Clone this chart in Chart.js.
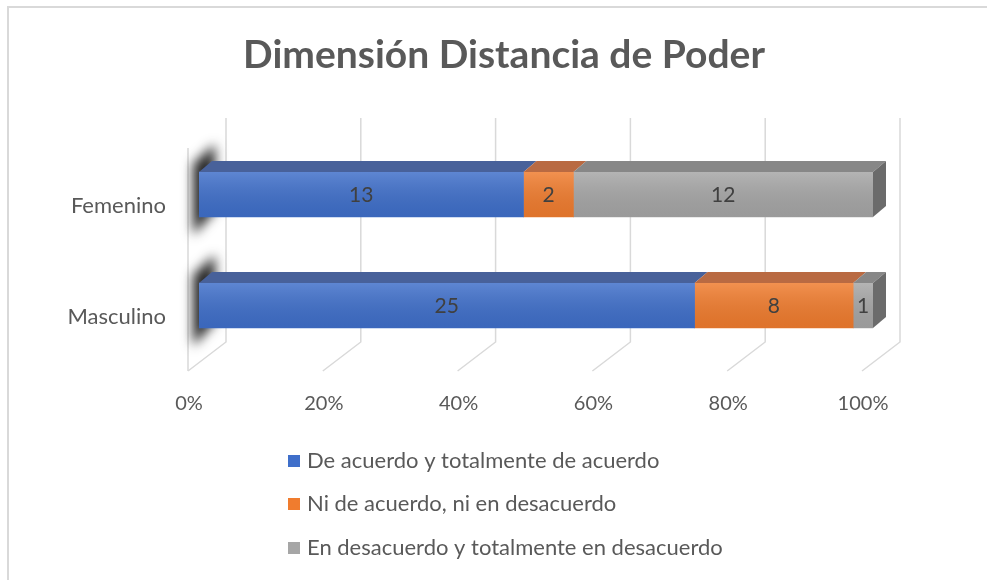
<!DOCTYPE html>
<html lang="es">
<head>
  <meta charset="UTF-8">
  <title>Dimensión Distancia de Poder</title>
  <script src="https://cdn.jsdelivr.net/npm/chart.js"></script>
  <style>
    html, body { margin: 0; padding: 0; background: #fff; }
    canvas { display: block; }
  </style>
</head>
<body>
  <canvas id="chart" width="987" height="580"></canvas>

  <script>
    // Datos
    const chartTitle = 'Dimensión Distancia de Poder';
    const categories = ['Femenino', 'Masculino'];
    const seriesNames = [
      'De acuerdo y totalmente de acuerdo',
      'Ni de acuerdo, ni en desacuerdo',
      'En desacuerdo y totalmente en desacuerdo'
    ];
    const deAcuerdo = [13, 25];
    const neutral = [2, 8];
    const enDesacuerdo = [12, 1];
    const xTicks = [0, 20, 40, 60, 80, 100];

    const frontColors = ['#3f6fca', '#f07c2e', '#a6a6a6'];
    const topColors = ['#48619a', '#b96a42', '#878787'];
    const sideColor = '#6b6b6b';

    const counts = [deAcuerdo, neutral, enDesacuerdo];
    const totals = categories.map((_, i) => counts.reduce((s, arr) => s + arr[i], 0));
    const pct = arr => arr.map((v, i) => v / totals[i] * 100);

    const FONT = 'Lato, "Open Sans", sans-serif';
    const DX = 13, DY = 11; // profundidad de las barras

    // paredes, rejilla y sombras (efecto 3D), etiquetas, titulo y leyenda
    const wallsPlugin = {
      id: 'walls',
      beforeDatasetsDraw(chart) {
        const { ctx, chartArea: a, scales: { x } } = chart;
        ctx.save();
        // marco
        ctx.strokeStyle = '#d9d9d9';
        ctx.lineWidth = 2;
        ctx.beginPath();
        ctx.moveTo(8, 580); ctx.lineTo(8, 7); ctx.lineTo(987, 7);
        ctx.stroke();

        ctx.lineWidth = 1.5;
        xTicks.forEach(t => {
          const px = x.getPixelForValue(t);
          ctx.beginPath();
          ctx.moveTo(px + 27, a.top - 21);
          ctx.lineTo(px + 27, a.bottom - 19);
          ctx.lineTo(px - 11, a.bottom + 10);
          ctx.stroke();
        });
        // borde frontal de la pared lateral
        const p0 = x.getPixelForValue(0);
        ctx.beginPath();
        ctx.moveTo(p0 - 11, a.top + 9);
        ctx.lineTo(p0 - 11, a.bottom + 10);
        ctx.stroke();

        // sombras sobre la pared lateral
        const meta = chart.getDatasetMeta(0);
        ctx.filter = 'blur(6px)';
        ctx.fillStyle = 'rgba(25,25,25,0.95)';
        meta.data.forEach(el => {
          const top = el.y - el.height / 2, bottom = el.y + el.height / 2;
          const x0 = el.base - 6, x1 = el.base + 16;
          ctx.beginPath();
          ctx.moveTo(x0, top - 8);
          ctx.lineTo(x1, top - 28);
          ctx.lineTo(x1, bottom - 6);
          ctx.lineTo(x0, bottom + 18);
          ctx.closePath();
          ctx.fill();
        });
        ctx.filter = 'none';
        ctx.restore();
      },
      afterDatasetsDraw(chart) {
        const { ctx } = chart;
        ctx.save();
        chart.data.datasets.forEach((ds, di) => {
          const meta = chart.getDatasetMeta(di);
          meta.data.forEach((el, i) => {
            const l = Math.min(el.base, el.x), r = Math.max(el.base, el.x);
            const top = el.y - el.height / 2, bottom = el.y + el.height / 2;
            // brillo del frente
            const g = ctx.createLinearGradient(0, top, 0, bottom);
            g.addColorStop(0, 'rgba(255,255,255,0.16)');
            g.addColorStop(1, 'rgba(0,0,0,0.07)');
            ctx.fillStyle = g;
            ctx.fillRect(l, top, r - l, bottom - top);
            // cara superior
            ctx.fillStyle = topColors[di];
            ctx.beginPath();
            ctx.moveTo(l, top);
            ctx.lineTo(r, top);
            ctx.lineTo(r + DX, top - DY);
            ctx.lineTo(l + DX, top - DY);
            ctx.closePath();
            ctx.fill();
            // cara lateral en el extremo
            if (di === chart.data.datasets.length - 1) {
              ctx.fillStyle = sideColor;
              ctx.beginPath();
              ctx.moveTo(r, top);
              ctx.lineTo(r + DX, top - DY);
              ctx.lineTo(r + DX, bottom - DY);
              ctx.lineTo(r, bottom);
              ctx.closePath();
              ctx.fill();
            }
            // etiqueta de datos
            ctx.fillStyle = '#404040';
            ctx.font = '21px ' + FONT;
            ctx.textAlign = 'center';
            ctx.textBaseline = 'middle';
            ctx.fillText(counts[di][i], (l + r) / 2, el.y + 1);
          });
        });
        ctx.restore();
      },
      afterDraw(chart) {
        const { ctx } = chart;
        ctx.save();
        // titulo
        ctx.fillStyle = '#595959';
        ctx.font = 'bold 39px ' + FONT;
        ctx.textAlign = 'center';
        ctx.textBaseline = 'middle';
        ctx.fillText(chartTitle, 504, 55);
        // leyenda vertical
        ctx.font = '22px ' + FONT;
        ctx.textAlign = 'left';
        const ys = [461, 504, 548];
        seriesNames.forEach((name, i) => {
          ctx.fillStyle = frontColors[i];
          ctx.fillRect(288, ys[i] - 6, 12, 12);
          ctx.fillStyle = '#595959';
          ctx.fillText(name, 307, ys[i]);
        });
        ctx.restore();
      }
    };

    new Chart(document.getElementById('chart'), {
      type: 'bar',
      data: {
        labels: categories,
        datasets: counts.map((arr, i) => ({
          label: seriesNames[i],
          data: pct(arr),
          backgroundColor: frontColors[i],
          barThickness: 45
        }))
      },
      options: {
        indexAxis: 'y',
        responsive: false,
        animation: false,
        layout: { padding: { left: 0, right: 114, top: 139, bottom: 159 } },
        plugins: {
          legend: { display: false },
          tooltip: { enabled: false },
          title: { display: false }
        },
        scales: {
          x: {
            stacked: true,
            min: 0,
            max: 100,
            afterFit: s => { s.height = 60; },
            afterBuildTicks: s => { s.ticks = xTicks.map(v => ({ value: v })); },
            grid: { display: false, drawTicks: false },
            border: { display: false },
            ticks: {
              padding: 31,
              labelOffset: -10,
              color: '#595959',
              font: { family: FONT, size: 20 },
              callback: v => v + '%'
            }
          },
          y: {
            stacked: true,
            afterFit: s => { s.width = 199; },
            grid: { display: false, drawTicks: false },
            border: { display: false },
            ticks: {
              padding: 33,
              labelOffset: 11,
              color: '#595959',
              font: { family: FONT, size: 22 }
            }
          }
        }
      },
      plugins: [wallsPlugin]
    });
  </script>
</body>
</html>
